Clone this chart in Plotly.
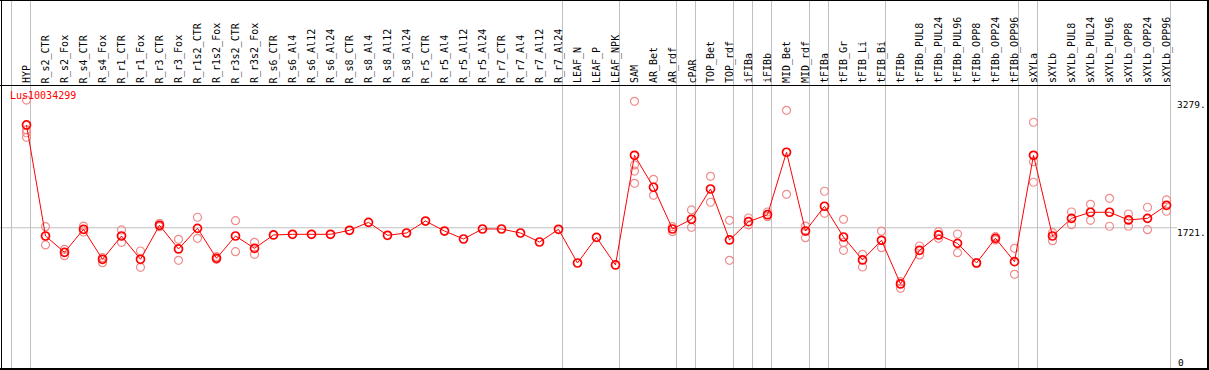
import plotly.graph_objects as go

# ---------------- data ----------------
gene_id = "Lus10034299"

categories = [
    "HYP", "R_s2_CTR", "R_s2_Fox", "R_s4_CTR", "R_s4_Fox", "R_r1_CTR", "R_r1_Fox",
    "R_r3_CTR", "R_r3_Fox", "R_r1s2_CTR", "R_r1s2_Fox", "R_r3s2_CTR", "R_r3s2_Fox",
    "R_s6_CTR", "R_s6_Al4", "R_s6_Al12", "R_s6_Al24", "R_s8_CTR", "R_s8_Al4",
    "R_s8_Al12", "R_s8_Al24", "R_r5_CTR", "R_r5_Al4", "R_r5_Al12", "R_r5_Al24",
    "R_r7_CTR", "R_r7_Al4", "R_r7_Al12", "R_r7_Al24", "LEAF_N", "LEAF_P", "LEAF_NPK",
    "SAM", "AR_Bet", "AR_rdf", "cPAR", "TOP_Bet", "TOP_rdf", "iFIBa", "iFIBb",
    "MID_Bet", "MID_rdf", "tFIBa", "tFIB_Gr", "tFIB_Li", "tFIB_Bi", "tFIBb",
    "tFIBb_PUL8", "tFIBb_PUL24", "tFIBb_PUL96", "tFIBb_OPP8", "tFIBb_OPP24",
    "tFIBb_OPP96", "sXYLa", "sXYLb", "sXYLb_PUL8", "sXYLb_PUL24", "sXYLb_PUL96",
    "sXYLb_OPP8", "sXYLb_OPP24", "sXYLb_OPP96",
]

means = [
    2975, 1620, 1421, 1702, 1336, 1620, 1336, 1751, 1462, 1714, 1348, 1620, 1470,
    1633, 1641, 1641, 1641, 1690, 1787, 1629, 1657, 1803, 1681, 1584, 1706,
    1706, 1657, 1547, 1702, 1291, 1604, 1267,
    2605, 2215, 1706, 1824, 2194, 1572, 1795, 1880,
    2642, 1681, 1983, 1608, 1328, 1568, 1035,
    1446, 1633, 1531, 1291, 1592, 1307,
    2605, 1620, 1836, 1910, 1910, 1816, 1836, 1995,
]

replicates = [
    [3279, 2914, 2880, 2825],
    [1734, 1511], [1458, 1380], [1742, 1669], [1356, 1295], [1694, 1543],
    [1437, 1238], [1775, 1734], [1580, 1324], [1849, 1592], [1368, 1336],
    [1807, 1429], [1543, 1397],
    [], [], [], [], [], [], [], [], [], [], [], [], [], [], [], [], [], [], [],
    [3264, 2487, 2413, 2263], [2312, 2117], [1734, 1673], [1938, 1726],
    [2349, 2032], [1812, 1324], [1840, 1755], [1913, 1856],
    [3154, 2129], [1742, 1600], [2166, 1897], [1824, 1539, 1446], [1397, 1242],
    [1681, 1478], [1063, 982],
    [1498, 1389], [1673, 1592], [1645, 1417], [1297, 1285], [1612, 1572], [1470, 1153],
    [3008, 2527, 2276], [1661, 1563], [1913, 1758], [2007, 1812], [2080, 1739],
    [1889, 1739], [1971, 1697], [2060, 1922],
]

group_ends = ["HYP", "R_r7_Al24", "LEAF_NPK", "AR_rdf", "cPAR", "TOP_rdf", "iFIBa",
              "iFIBb", "MID_rdf", "tFIBa", "tFIB_Bi", "tFIBb_OPP96", "sXYLa",
              "sXYLb_OPP96"]

y_ticks = [0, 1721, 3279]
y_tick_text = ["0", "1721.", "3279."]

# ---------------- layout geometry ----------------
W, H = 1209, 370
PX_PER_CAT = 19.0
X0_PX = 26.5
Y_ZERO_PX = 368.8
PX_PER_UNIT = 0.08196
GRID_OFFSET = 4.0 / PX_PER_CAT

x_range = [-X0_PX / PX_PER_CAT, (W - X0_PX) / PX_PER_CAT]
y_range = [-(H - Y_ZERO_PX) / PX_PER_UNIT, Y_ZERO_PX / PX_PER_UNIT]


def px_x(p):
    return p / W


def px_y(p):
    return 1 - p / H


MONO = "DejaVu Sans Mono"

idx = list(range(len(categories)))
rep_x, rep_y = [], []
for i, reps in enumerate(replicates):
    for v in reps:
        rep_x.append(i)
        rep_y.append(v)

fig = go.Figure()
fig.add_trace(go.Scatter(
    x=rep_x, y=rep_y, mode="markers",
    marker=dict(symbol="circle-open", size=8, color="#f08c8c", line=dict(width=1.2)),
    hoverinfo="y", showlegend=False,
))
fig.add_trace(go.Scatter(
    x=idx, y=means, mode="lines+markers",
    line=dict(color="#ff0000", width=1),
    marker=dict(symbol="circle-open", size=8, color="#ff0000", line=dict(width=1.7)),
    text=categories, hoverinfo="text+y", showlegend=False,
))

grid_vals = [-1 + GRID_OFFSET] + [categories.index(g) + GRID_OFFSET for g in group_ends]

annotations = []
for i, c in enumerate(categories):
    annotations.append(dict(
        x=i, xref="x", y=px_y(83.5), yref="paper", text=c, textangle=-90,
        xanchor="center", yanchor="bottom", showarrow=False,
        font=dict(family=MONO, size=10, color="black"), borderpad=0, borderwidth=0,
    ))

for v, t in zip(y_ticks, y_tick_text):
    if v == 0:
        annotations.append(dict(
            x=px_x(1178), xref="paper", y=v, yref="y", text=t, showarrow=False,
            xanchor="left", yanchor="bottom", yshift=1,
            font=dict(family=MONO, size=9.5, color="black"), borderpad=0, borderwidth=0,
        ))
    else:
        annotations.append(dict(
            x=px_x(1177), xref="paper", y=v, yref="y", text=t, showarrow=False,
            xanchor="left", yanchor="top", yshift=1,
            font=dict(family=MONO, size=9.5, color="black"), borderpad=0, borderwidth=0,
        ))

annotations.append(dict(
    x=px_x(9.5), xref="paper", y=px_y(90), yref="paper", text=gene_id, showarrow=False,
    xanchor="left", yanchor="top", font=dict(family=MONO, size=10, color="#ff0000"),
    borderpad=0, borderwidth=0,
))

line_blk = dict(color="black", width=1)
shapes = [
    # overall mean line
    dict(type="line", xref="paper", yref="y", x0=0, x1=px_x(1177),
         y0=y_ticks[1], y1=y_ticks[1], line=dict(color="#c0c0c0", width=1), layer="below"),
    # frame
    dict(type="line", xref="paper", yref="paper", x0=0, x1=1, y0=px_y(0.5), y1=px_y(0.5), line=line_blk),
    dict(type="line", xref="paper", yref="paper", x0=0, x1=px_x(1170.5), y0=px_y(85.5), y1=px_y(85.5), line=line_blk),
    dict(type="line", xref="paper", yref="paper", x0=px_x(1.5), x1=px_x(1.5), y0=0, y1=1, line=line_blk),
    dict(type="line", xref="paper", yref="paper", x0=px_x(1208), x1=px_x(1208), y0=0, y1=1,
         line=dict(color="black", width=2)),
    dict(type="line", xref="paper", yref="paper", x0=0, x1=1, y0=px_y(369), y1=px_y(369),
         line=dict(color="black", width=2)),
]

fig.update_layout(
    width=W, height=H, autosize=False,
    margin=dict(l=0, r=0, t=0, b=0, pad=0),
    paper_bgcolor="white", plot_bgcolor="white",
    showlegend=False,
    xaxis=dict(range=x_range, tickvals=grid_vals, showticklabels=False, ticks="",
               showgrid=True, gridcolor="#c0c0c0", gridwidth=1, zeroline=False,
               showline=False, fixedrange=True),
    yaxis=dict(range=y_range, showgrid=False, showticklabels=False, ticks="",
               zeroline=False, showline=False, fixedrange=True),
    annotations=annotations,
    shapes=shapes,
)

fig.write_html(
    "out.html",
    config={"displayModeBar": False},
    post_script="document.body.style.margin='0';document.body.style.padding='0';"
                "document.body.style.overflow='hidden';",
)
